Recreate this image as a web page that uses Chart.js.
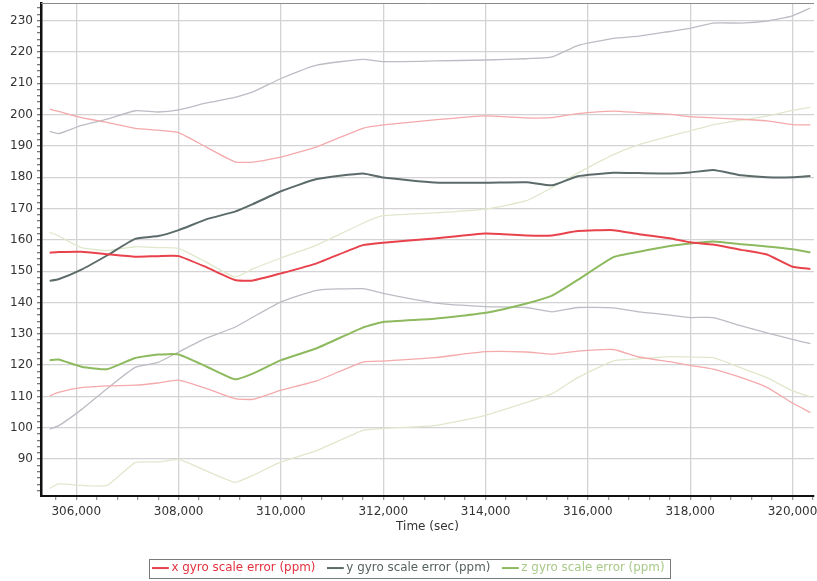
<!DOCTYPE html>
<html>
<head>
<meta charset="utf-8">
<script src="https://cdn.jsdelivr.net/npm/chart.js@4/dist/chart.umd.min.js"></script>
<style>
  html, body { margin: 0; padding: 0; background: #fff; }
</style>
</head>
<body>
<canvas id="gyroChart" width="817" height="581"></canvas>
<script>
// time stamps (sec) shared by every series
const times = [305480, 305650, 306100, 306600, 307150, 307600, 308000, 308550, 309100, 309450, 310000, 310700, 311600, 312000,
  313000, 314000, 314800, 315300, 315800, 316500, 317000, 317600, 318000, 318450, 319000, 319500, 320000, 320350]

const xErr = [155.9, 156.1, 156.2, 155.4, 154.6, 154.8, 154.8, 151.2, 147.2, 147.0, 149.3, 152.5, 158.3, 159.1,
  160.4, 162.0, 161.4, 161.4, 162.8, 163.1, 161.8, 160.5, 159.2, 158.5, 156.8, 155.3, 151.4, 150.7]
const xErrHigh = [201.7, 201.0, 199.0, 197.5, 195.6, 195.0, 194.2, 189.5, 184.9, 184.8, 186.4, 189.7, 195.6, 196.7,
  198.3, 199.6, 198.9, 199.0, 200.3, 201.1, 200.6, 200.1, 199.3, 198.9, 198.5, 198.0, 196.8, 196.7]
const xErrLow = [110.2, 111.3, 112.8, 113.4, 113.6, 114.3, 115.2, 112.5, 109.3, 109.1, 112.0, 115.0, 121.0, 121.3,
  122.4, 124.3, 124.2, 123.5, 124.5, 125.0, 122.6, 121.1, 119.9, 118.7, 116.0, 112.9, 107.9, 104.9]

const yErr = [146.9, 147.4, 150.5, 155.0, 160.3, 161.2, 163.1, 166.6, 169.0, 171.4, 175.5, 179.4, 181.2, 179.9,
  178.3, 178.2, 178.4, 177.4, 180.3, 181.4, 181.3, 181.2, 181.5, 182.3, 180.6, 180.0, 180.0, 180.4]
const yErrHigh = [194.6, 193.9, 196.5, 198.5, 201.2, 200.8, 201.5, 203.7, 205.5, 207.2, 211.5, 215.8, 217.6, 216.9,
  217.1, 217.4, 217.8, 218.4, 222.0, 224.3, 225.0, 226.5, 227.5, 229.2, 229.2, 229.8, 231.5, 234.0]
const yErrLow = [99.6, 100.6, 105.8, 112.5, 119.3, 120.9, 124.2, 128.7, 132.1, 135.3, 140.2, 143.9, 144.4, 142.9,
  139.9, 138.7, 138.4, 137.0, 138.4, 138.3, 137.0, 136.0, 135.2, 135.2, 132.5, 130.3, 128.2, 126.9]

const zErr = [121.6, 121.8, 119.5, 118.7, 122.3, 123.4, 123.4, 119.5, 115.5, 117.3, 121.6, 125.4, 132.0, 133.8,
  134.8, 136.7, 139.7, 142.2, 147.2, 154.5, 156.2, 158.0, 158.8, 159.5, 158.6, 157.9, 157.0, 156.0]
const zErrHigh = [162.4, 161.3, 157.5, 156.6, 157.8, 157.5, 157.3, 152.8, 148.1, 150.7, 154.2, 158.3, 165.3, 167.7,
  168.6, 169.8, 172.5, 176.7, 181.3, 187.2, 190.4, 193.1, 194.8, 196.7, 198.2, 199.5, 201.3, 202.3]
const zErrLow = [80.6, 82.1, 81.6, 81.6, 88.9, 89.1, 89.9, 86.2, 82.6, 84.8, 89.1, 92.7, 99.2, 99.8,
  100.7, 104.0, 108.1, 110.9, 116.0, 121.4, 122.0, 122.7, 122.6, 122.4, 119.1, 116.0, 111.8, 109.9]

const xTicks = [306000, 308000, 310000, 312000, 314000, 316000, 318000, 320000]
const yTicks = [90, 100, 110, 120, 130, 140, 150, 160, 170, 180, 190, 200, 210, 220, 230]

const FONT = '"DejaVu Sans", Verdana, sans-serif'
const legendColors = ['#e2323f', '#56625f', '#a9c98a']

const points = (vals) => times.map((t, i) => ({ x: t, y: vals[i] }))

const line = (label, vals, color, width) => ({
  label,
  data: points(vals),
  borderColor: color,
  backgroundColor: color,
  borderWidth: width,
  pointRadius: 0,
  tension: 0.15,
  fill: false,
})

const range = (from, to, step) => {
  const out = []
  for (let v = from; v <= to; v += step) out.push({ value: v })
  return out
}

// no extra room for the edge labels, the plot fills the canvas
const noEdgePadding = (scale) => {
  scale.paddingTop = 0
  scale.paddingBottom = 0
  scale.paddingLeft = 0
  scale.paddingRight = 0
}

// thin frame on top and box round the legend
const framePlugin = {
  id: 'frame',
  afterDraw(chart) {
    const { ctx, chartArea: a } = chart
    ctx.save()
    ctx.strokeStyle = '#8a8a8a'
    ctx.lineWidth = 1
    ctx.beginPath()
    ctx.moveTo(a.left, a.top + 0.5)
    ctx.lineTo(a.right, a.top + 0.5)
    ctx.stroke()

    const boxes = chart.legend.legendHitBoxes
    if (boxes && boxes.length) {
      const left = Math.min(...boxes.map(b => b.left)) - 6
      const right = Math.max(...boxes.map(b => b.left + b.width)) + 6
      const top = Math.min(...boxes.map(b => b.top)) - 3
      const bottom = Math.max(...boxes.map(b => b.top + b.height)) + 4
      ctx.strokeStyle = '#7a7a7a'
      ctx.strokeRect(Math.round(left) + 0.5, Math.round(top) + 0.5, Math.round(right - left), Math.round(bottom - top))
    }
    ctx.restore()
  },
}

new Chart(document.getElementById('gyroChart'), {
  type: 'line',
  data: {
    datasets: [
      line('x gyro scale error (ppm)', xErr, '#e8424c', 2),
      line('y gyro scale error (ppm)', yErr, '#5b6b6a', 2),
      line('z gyro scale error (ppm)', zErr, '#8dba5e', 2),
      line('x upper', xErrHigh, '#f4a9ab', 1.3),
      line('x lower', xErrLow, '#f4a9ab', 1.3),
      line('y upper', yErrHigh, '#bcbcc4', 1.3),
      line('y lower', yErrLow, '#bcbcc4', 1.3),
      line('z upper', zErrHigh, '#dfe8cc', 1.3),
      line('z lower', zErrLow, '#dfe8cc', 1.3),
    ],
  },
  plugins: [framePlugin],
  options: {
    responsive: false,
    animation: false,
    devicePixelRatio: 1,
    layout: { padding: { top: 3, right: 3, left: 6, bottom: -3 } },
    plugins: {
      tooltip: { enabled: false },
      legend: {
        position: 'bottom',
        labels: {
          usePointStyle: true,
          pointStyle: 'line',
          boxWidth: 10,
          padding: 15,
          font: { family: FONT, size: 11.9 },
          generateLabels: (chart) => Chart.defaults.plugins.legend.labels.generateLabels(chart)
            .filter(item => item.datasetIndex < 3)
            .map(item => ({ ...item, fontColor: legendColors[item.datasetIndex] })),
        },
      },
    },
    scales: {
      x: {
        type: 'linear',
        min: 305310,
        max: 320420,
        afterBuildTicks: (scale) => { scale.ticks = range(305600, 320400, 400) },
        afterFit: (scale) => { scale.height = 51; noEdgePadding(scale) },
        ticks: {
          autoSkip: false,
          maxRotation: 0,
          padding: 5,
          color: '#333',
          font: { family: FONT, size: 12 },
          callback: (v) => xTicks.includes(v) ? v.toLocaleString('en-US') : '',
        },
        grid: {
          color: (c) => xTicks.includes(c.tick && c.tick.value) ? '#d3d3d3' : 'rgba(0,0,0,0)',
          tickColor: '#999',
          tickLength: 4,
          lineWidth: 1.3,
        },
        border: { color: '#111', width: 2 },
        title: {
          display: true,
          text: 'Time (sec)',
          color: '#333',
          font: { family: FONT, size: 12 },
          padding: { top: 0, bottom: 13 },
        },
      },
      y: {
        min: 78.2,
        max: 235.6,
        afterBuildTicks: (scale) => { scale.ticks = range(80, 234, 2) },
        afterFit: (scale) => { scale.width = 35; noEdgePadding(scale) },
        ticks: {
          autoSkip: false,
          padding: 4,
          color: '#333',
          font: { family: FONT, size: 12 },
          callback: (v) => yTicks.includes(v) ? String(v) : '',
        },
        grid: {
          color: (c) => yTicks.includes(c.tick && c.tick.value) ? '#d3d3d3' : 'rgba(0,0,0,0)',
          tickColor: '#777',
          tickLength: 4,
          lineWidth: 1.3,
        },
        border: { color: '#111', width: 2.5 },
      },
    },
  },
})
</script>
</body>
</html>
